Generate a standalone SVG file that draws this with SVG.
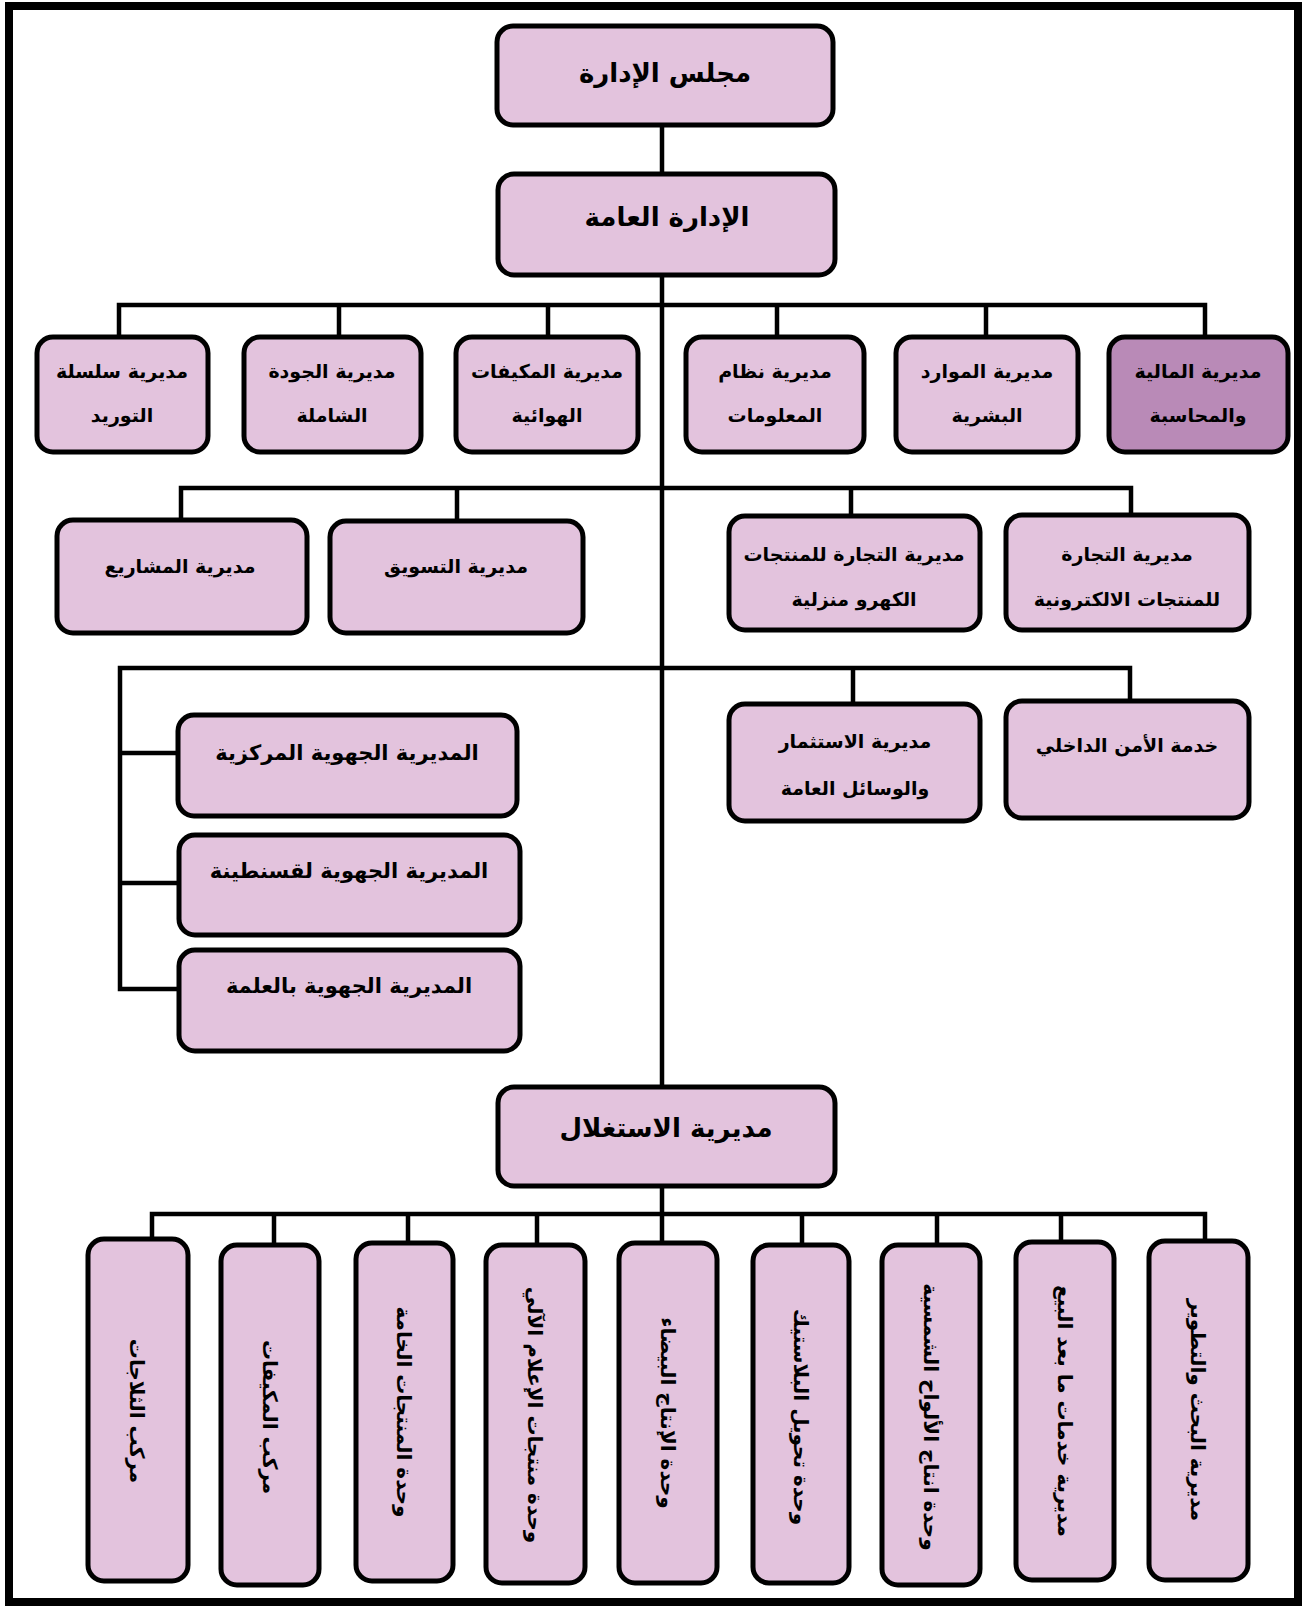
<svg xmlns="http://www.w3.org/2000/svg" width="1303" height="1612" viewBox="0 0 1303 1612">
<style>
.frame{fill:none;stroke:#000;stroke-width:8}
.box{fill:#E3C3DD;stroke:#000;stroke-width:5}
.dark{fill:#B98AB7}
.con{fill:none;stroke:#000;stroke-width:4.5;stroke-linecap:square}
text{font-family:"DejaVu Sans","Noto Sans",sans-serif;font-weight:bold;fill:#000;text-anchor:middle;direction:rtl}
.t1{font-size:26px}
.t2{font-size:19px}
.t3{font-size:21px}
.tv{font-size:20px}
</style>
<rect x="0" y="0" width="1303" height="1612" fill="#fff"/>
<rect class="frame" x="9" y="6" width="1289" height="1596"/>
<g id="connectors">
<path class="con" d="M662 126V174M662 275V1087M662 1186V1245"/>
<path class="con" d="M119 305H1205M119 305V337M339 305V337M548 305V337M777 305V337M986 305V337M1205 305V337"/>
<path class="con" d="M181 488H1131M181 488V520M457 488V521M851 488V516M1131 488V515"/>
<path class="con" d="M120 668H1130M120 668V989M120 753H178M120 883H179M120 989H179M853 668V704M1130 668V701"/>
<path class="con" d="M152 1214H1205M152 1214V1239M274 1214V1245M408 1214V1243M537 1214V1245M802 1214V1245M937 1214V1245M1061 1214V1242M1205 1214V1241"/>
</g>
<g id="n-board"><rect class="box" x="497" y="26" width="336" height="99" rx="16"/><text class="t1" x="665" y="82">مجلس الإدارة</text></g>
<g id="n-general"><rect class="box" x="498" y="174" width="337" height="101" rx="16"/><text class="t1" x="667" y="226">الإدارة العامة</text></g>
<g id="n-supply"><rect class="box" x="37" y="337" width="171" height="115" rx="16"/><text class="t2" x="122" y="378">مديرية سلسلة</text><text class="t2" x="122" y="422">التوريد</text></g>
<g id="n-quality"><rect class="box" x="244" y="337" width="177" height="115" rx="16"/><text class="t2" x="332" y="378">مديرية الجودة</text><text class="t2" x="332" y="422">الشاملة</text></g>
<g id="n-ac"><rect class="box" x="456" y="337" width="182" height="115" rx="16"/><text class="t2" x="547" y="378">مديرية المكيفات</text><text class="t2" x="547" y="422">الهوائية</text></g>
<g id="n-is"><rect class="box" x="686" y="337" width="178" height="115" rx="16"/><text class="t2" x="775" y="378">مديرية نظام</text><text class="t2" x="775" y="422">المعلومات</text></g>
<g id="n-hr"><rect class="box" x="896" y="337" width="182" height="115" rx="16"/><text class="t2" x="987" y="378">مديرية الموارد</text><text class="t2" x="987" y="422">البشرية</text></g>
<g id="n-finance"><rect class="box dark" x="1109" y="337" width="179" height="115" rx="16"/><text class="t2" x="1198" y="378">مديرية المالية</text><text class="t2" x="1198" y="422">والمحاسبة</text></g>
<g id="n-projects"><rect class="box" x="57" y="520" width="250" height="113" rx="16"/><text class="t2" x="180" y="573">مديرية المشاريع</text></g>
<g id="n-marketing"><rect class="box" x="330" y="521" width="253" height="112" rx="16"/><text class="t2" x="456" y="573">مديرية التسويق</text></g>
<g id="n-trade-home"><rect class="box" x="729" y="516" width="251" height="114" rx="16"/><text class="t2" x="854" y="561">مديرية التجارة للمنتجات</text><text class="t2" x="854" y="606">الكهرو منزلية</text></g>
<g id="n-trade-elec"><rect class="box" x="1006" y="515" width="243" height="115" rx="16"/><text class="t2" x="1127" y="561">مديرية التجارة</text><text class="t2" x="1127" y="606">للمنتجات الالكترونية</text></g>
<g id="n-reg-center"><rect class="box" x="178" y="715" width="339" height="101" rx="16"/><text class="t3" x="347" y="760">المديرية الجهوية المركزية</text></g>
<g id="n-reg-const"><rect class="box" x="179" y="835" width="341" height="100" rx="16"/><text class="t3" x="349" y="878">المديرية الجهوية لقسنطينة</text></g>
<g id="n-reg-eulma"><rect class="box" x="179" y="950" width="341" height="101" rx="16"/><text class="t3" x="349" y="993">المديرية الجهوية بالعلمة</text></g>
<g id="n-invest"><rect class="box" x="729" y="704" width="251" height="117" rx="16"/><text class="t2" x="855" y="748">مديرية الاستثمار</text><text class="t2" x="855" y="795">والوسائل العامة</text></g>
<g id="n-security"><rect class="box" x="1006" y="701" width="243" height="117" rx="16"/><text class="t2" x="1127" y="752">خدمة الأمن الداخلي</text></g>
<g id="n-exploit"><rect class="box" x="498" y="1087" width="337" height="99" rx="16"/><text class="t1" x="666" y="1137">مديرية الاستغلال</text></g>
<g id="n-b1"><rect class="box" x="88" y="1239" width="100" height="342" rx="16"/><text class="tv" transform="translate(130 1411) rotate(90)">مركب الثلاجات</text></g>
<g id="n-b2"><rect class="box" x="221" y="1245" width="98" height="340" rx="16"/><text class="tv" transform="translate(263 1417) rotate(90)">مركب المكيفات</text></g>
<g id="n-b3"><rect class="box" x="356" y="1243" width="97" height="338" rx="16"/><text class="tv" transform="translate(397 1412) rotate(90)">وحدة المنتجات الخامة</text></g>
<g id="n-b4"><rect class="box" x="486" y="1245" width="99" height="338" rx="16"/><text class="tv" transform="translate(528 1415) rotate(90)">وحدة منتجات الإعلام الآلي</text></g>
<g id="n-b5"><rect class="box" x="619" y="1243" width="98" height="340" rx="16"/><text class="tv" transform="translate(661 1413) rotate(90)">وحدة الإنتاج البيضاء</text></g>
<g id="n-b6"><rect class="box" x="753" y="1245" width="96" height="338" rx="16"/><text class="tv" transform="translate(794 1417) rotate(90)">وحدة تحويل البلاستيك</text></g>
<g id="n-b7"><rect class="box" x="882" y="1245" width="98" height="340" rx="16"/><text class="tv" transform="translate(924 1417) rotate(90)">وحدة انتاج الألواح الشمسية</text></g>
<g id="n-b8"><rect class="box" x="1016" y="1242" width="98" height="338" rx="16"/><text class="tv" transform="translate(1058 1411) rotate(90)">مديرية خدمات ما بعد البيع</text></g>
<g id="n-b9"><rect class="box" x="1149" y="1241" width="99" height="339" rx="16"/><text class="tv" transform="translate(1191 1410) rotate(90)">مديرية البحث والتطوير</text></g>
</svg>
